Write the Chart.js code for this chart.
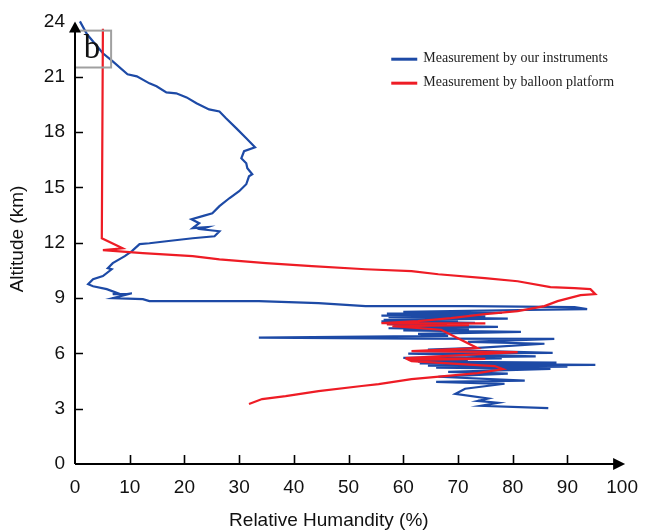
<!DOCTYPE html>
<html>
<head>
<meta charset="utf-8">
<script src="https://cdn.jsdelivr.net/npm/chart.js@4/dist/chart.umd.min.js"></script>
<style>
  html, body { margin: 0; padding: 0; background: #ffffff; }
  #wrap { width: 650px; height: 530px; position: relative; }
</style>
</head>
<body>
<div id="wrap"><canvas id="c" width="650" height="530"></canvas></div>
<script>
// ---- Data ----
const seriesLabels = ["Measurement by our instruments", "Measurement by balloon platform"];

// Blue: our instruments — relative humidity (%) and altitude (km)
const instrumentHumidity = [
  0.9, 2.2, 5.1, 6.9, 9.6, 11.3, 13.6, 14.9, 16.7, 18.5, 20.4, 22.2, 24.5, 26.4, 27.6, 29.5, 31.3, 32.9,
  30.9, 30.4, 31.3, 31.5, 32.4, 31.8, 31.3, 30.0, 28.2, 26.4, 25.1, 23.3, 21.3, 22.7, 21.5, 24.2, 23.1,
  26.4, 25.5, 21.5, 16.7, 13.6, 11.8, 10.4, 9.1, 6.9, 6.0, 6.7, 5.1, 3.3, 2.4, 3.3, 5.8, 7.8, 6.9, 9.5,
  10.4, 6.9, 12.4, 13.6, 33.6, 44.5, 53.1, 71.8, 91.3, 93.6,
  71.8, 60.0, 78.0, 57.0, 73.6, 56.0, 75.0, 57.3, 79.1, 56.4, 70.0, 56.0, 73.1, 57.0, 68.0, 58.2, 77.3,
  57.3, 72.0, 60.0, 81.5, 62.7, 68.2, 33.6, 62.7, 87.6, 71.8, 85.8, 73.6, 64.5, 87.3, 60.9, 84.2, 60.0,
  78.0, 61.0, 71.8, 62.7, 88.0, 63.0, 95.1, 64.5, 90.0, 66.0, 86.9, 68.2, 79.1, 66.4, 82.2, 66.0, 78.5,
  71.3, 69.5, 75.5, 73.6, 77.3, 74.2, 86.5
];
const instrumentAltitude = [
  24.0, 23.3, 22.27, 21.83, 21.13, 21.02, 20.64, 20.48, 20.15, 20.10, 19.88, 19.56, 19.23, 19.12, 18.75, 18.20, 17.66, 17.17,
  16.96, 16.58, 16.31, 16.04, 15.71, 15.60, 15.17, 14.79, 14.41, 13.98, 13.60, 13.44, 13.27, 13.06, 12.79, 12.84, 12.73,
  12.62, 12.35, 12.24, 12.08, 11.97, 11.92, 11.54, 11.27, 10.89, 10.62, 10.56, 10.19, 10.02, 9.75, 9.64, 9.48, 9.26, 9.21, 9.21,
  9.26, 8.99, 8.94, 8.83, 8.83, 8.72, 8.56, 8.56, 8.51, 8.40,
  8.31, 8.25, 8.20, 8.15, 8.12, 8.05, 8.00, 7.96, 7.88, 7.82, 7.78, 7.73, 7.66, 7.60, 7.56, 7.52, 7.44,
  7.36, 7.30, 7.25, 7.16, 7.06, 6.95, 6.85, 6.80, 6.78, 6.62, 6.52, 6.30, 6.20, 6.03, 5.98, 5.84, 5.76,
  5.72, 5.66, 5.60, 5.55, 5.50, 5.45, 5.38, 5.33, 5.28, 5.22, 5.16, 5.00, 4.90, 4.73, 4.52, 4.45, 4.35,
  4.08, 3.80, 3.55, 3.42, 3.32, 3.16, 3.03
];

// Red: balloon platform — relative humidity (%) and altitude (km)
const balloonHumidity = [
  5.1, 4.9, 8.7, 5.1, 12.4, 21.5, 26.4, 34.9, 43.3, 53.1, 61.5, 66.4, 74.9, 80.9, 86.9, 91.3, 94.2, 95.1,
  92.4, 88.2, 85.8, 80.9, 74.9, 68.7, 62.7, 56.0, 75.0, 57.0, 72.0, 58.0, 66.9, 73.6, 61.5, 80.9, 60.4,
  75.0, 61.0, 61.5, 76.7, 78.2, 73.6, 61.5, 55.5, 52.4, 44.5, 38.5, 34.2, 31.8
];
const balloonAltitude = [
  23.6, 12.24, 11.7, 11.6, 11.43, 11.27, 11.1, 10.89, 10.73, 10.56, 10.46, 10.29, 10.08, 9.91, 9.59, 9.54, 9.48, 9.21,
  9.16, 8.83, 8.56, 8.29, 8.13, 7.91, 7.75, 7.64, 7.62, 7.57, 7.53, 7.48, 7.28, 6.28, 6.12, 6.07, 5.74,
  5.70, 5.65, 5.58, 5.31, 5.15, 4.93, 4.60, 4.33, 4.23, 3.95, 3.68, 3.52, 3.25
];

// Axis ticks and labels
const xTicks = [0, 10, 20, 30, 40, 50, 60, 70, 80, 90, 100];
const yTicks = [0, 3, 6, 9, 12, 15, 18, 21, 24];
const xTitle = "Relative Humandity (%)";
const yTitle = "Altitude (km)";
const panelLetter = "b";
const panelBox = { xMin: 0, xMax: 6.6, yMin: 21.5, yMax: 23.5 };

const toPoints = (xs, ys) => xs.map((v, i) => ({ x: v, y: ys[i] }));

const BLUE = "#1d4aa6";
const RED = "#ee1c25";
const SANS = "'Liberation Sans', Arial, sans-serif";

const decor = {
  id: "decor",
  afterDatasetsDraw(chart) {
    const ctx = chart.ctx;
    const xs = chart.scales.x, ys = chart.scales.y;
    const x0 = xs.getPixelForValue(0), y0 = ys.getPixelForValue(0);
    const xEnd = xs.getPixelForValue(100), yTop = ys.getPixelForValue(24);
    ctx.save();
    // panel letter box
    const bx1 = xs.getPixelForValue(panelBox.xMin), bx2 = xs.getPixelForValue(panelBox.xMax);
    const by1 = ys.getPixelForValue(panelBox.yMax), by2 = ys.getPixelForValue(panelBox.yMin);
    ctx.strokeStyle = "#a0a0a0";
    ctx.lineWidth = 2;
    ctx.strokeRect(bx1, by1, bx2 - bx1, by2 - by1);
    ctx.fillStyle = "#111";
    ctx.font = "33px 'Liberation Serif', serif";
    ctx.textAlign = "center";
    ctx.textBaseline = "alphabetic";
    ctx.fillText(panelLetter, (bx1 + bx2) / 2 - 1, by1 + 27);

    // axes
    ctx.strokeStyle = "#000";
    ctx.fillStyle = "#000";
    ctx.lineWidth = 2;
    ctx.beginPath();
    ctx.moveTo(x0, y0); ctx.lineTo(x0, yTop + 8);
    ctx.moveTo(x0, y0); ctx.lineTo(xEnd - 6, y0);
    ctx.stroke();
    // arrows
    ctx.beginPath();
    ctx.moveTo(x0, yTop); ctx.lineTo(x0 - 6, yTop + 11); ctx.lineTo(x0 + 6, yTop + 11); ctx.closePath();
    ctx.fill();
    ctx.beginPath();
    ctx.moveTo(xEnd + 3, y0); ctx.lineTo(xEnd - 9, y0 - 6); ctx.lineTo(xEnd - 9, y0 + 6); ctx.closePath();
    ctx.fill();
    // tick marks (inside)
    ctx.lineWidth = 1.6;
    ctx.beginPath();
    xTicks.forEach(t => {
      if (t === 0 || t === 100) return;
      const px = Math.round(xs.getPixelForValue(t)) + 0.5;
      ctx.moveTo(px, y0); ctx.lineTo(px, y0 - 9);
    });
    yTicks.forEach(t => {
      if (t === 0 || t === 24) return;
      const py = Math.round(ys.getPixelForValue(t)) + 0.5;
      ctx.moveTo(x0, py); ctx.lineTo(x0 + 8, py);
    });
    ctx.stroke();

    // axis titles
    ctx.fillStyle = "#111";
    ctx.font = "19px " + SANS;
    ctx.textAlign = "center";
    ctx.textBaseline = "middle";
    ctx.fillText(xTitle, xs.getPixelForValue(46.4), 521);
    ctx.translate(18, ys.getPixelForValue(12.2));
    ctx.rotate(-Math.PI / 2);
    ctx.fillText(yTitle, 0, 0);
    ctx.setTransform(1, 0, 0, 1, 0, 0);

    // legend
    const lx = xs.getPixelForValue(57.8), ly1 = ys.getPixelForValue(21.95), ly2 = ys.getPixelForValue(20.65);
    const items = [[BLUE, ly1, chart.data.datasets[0].label], [RED, ly2, chart.data.datasets[1].label]];
    ctx.font = "14px 'Liberation Serif', serif";
    ctx.textAlign = "left";
    ctx.textBaseline = "middle";
    items.forEach(([col, y, label]) => {
      ctx.strokeStyle = col;
      ctx.lineWidth = 3;
      ctx.beginPath(); ctx.moveTo(lx, y); ctx.lineTo(lx + 26, y); ctx.stroke();
      ctx.fillStyle = "#222";
      ctx.fillText(label, lx + 32, y - 1);
    });
    ctx.restore();
  }
};

new Chart(document.getElementById("c"), {
  type: "scatter",
  data: {
    datasets: [
      { label: seriesLabels[0], data: toPoints(instrumentHumidity, instrumentAltitude), showLine: true,
        borderColor: BLUE, backgroundColor: BLUE, borderWidth: 2.2, pointRadius: 0, tension: 0, order: 2 },
      { label: seriesLabels[1], data: toPoints(balloonHumidity, balloonAltitude), showLine: true,
        borderColor: RED, backgroundColor: RED, borderWidth: 2.2, pointRadius: 0, tension: 0, order: 1 }
    ]
  },
  options: {
    responsive: false,
    animation: false,
    clip: false,
    layout: { padding: { left: 0, right: 25, top: 20, bottom: 0 } },
    plugins: { legend: { display: false }, tooltip: { enabled: false } },
    scales: {
      x: {
        type: "linear", min: 0, max: 100,
        afterFit(s) { s.height = 66; },
        afterBuildTicks(s) { s.ticks = xTicks.map(v => ({ value: v })); },
        grid: { display: false, drawTicks: false },
        border: { display: false },
        ticks: { padding: 12, color: "#111", font: { family: SANS, size: 19 }, maxRotation: 0 },
        title: { display: false, text: xTitle }
      },
      y: {
        type: "linear", min: 0, max: 24,
        afterFit(s) { s.width = 75; },
        afterBuildTicks(s) { s.ticks = yTicks.map(v => ({ value: v })); },
        grid: { display: false, drawTicks: false },
        border: { display: false },
        ticks: { padding: 10, color: "#111", font: { family: SANS, size: 19 } },
        title: { display: false, text: yTitle }
      }
    }
  },
  plugins: [decor]
});
</script>
</body>
</html>
